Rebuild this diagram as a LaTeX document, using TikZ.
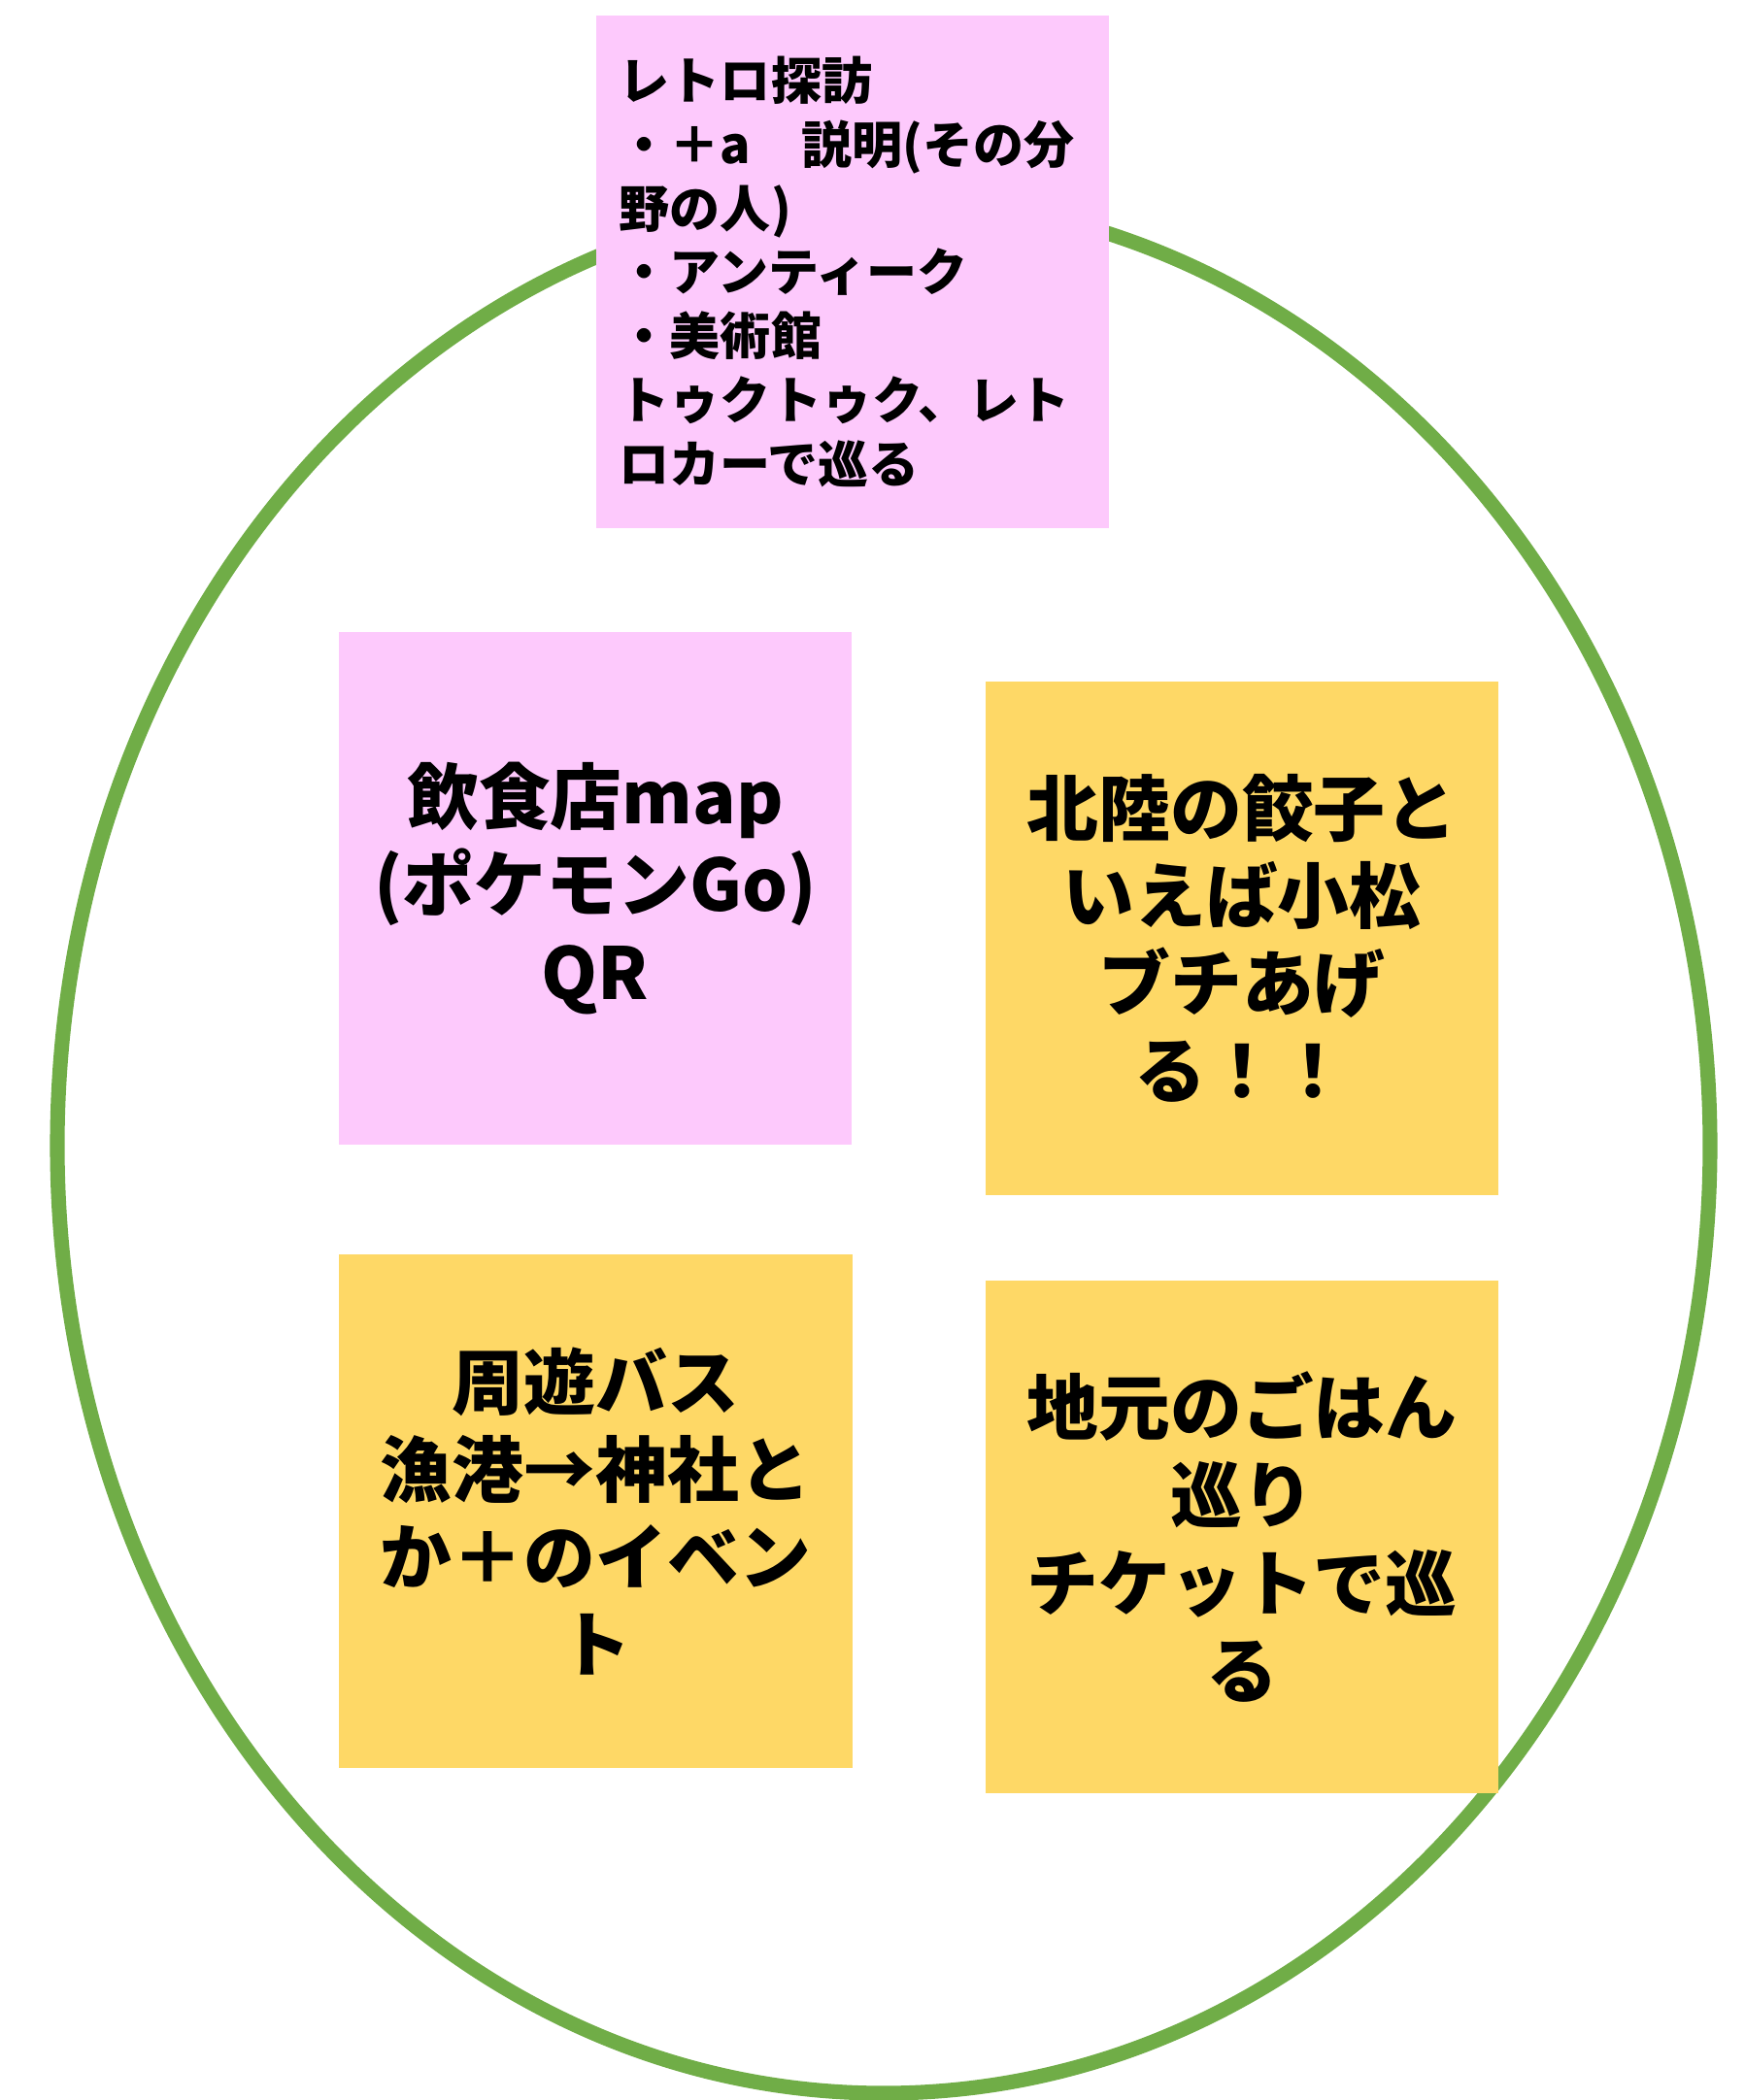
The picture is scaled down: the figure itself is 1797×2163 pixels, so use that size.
\documentclass[tikz,border=0pt]{standalone}
\usepackage{fontspec}
\setmainfont{Noto Sans CJK JP}
\definecolor{notepink}{HTML}{FDC9FC}
\definecolor{noteyellow}{HTML}{FED866}
\definecolor{ringgreen}{HTML}{70AD47}
\tikzset{
	ring/.style={draw=ringgreen, line width=4.3pt},
	sticky/.style={rectangle, minimum width=5.28cm, minimum height=5.28cm, inner sep=0pt,
		align=center, font=\bfseries\fontsize{21}{25.6}\selectfont},
	pinknote/.style={sticky, fill=notepink},
	yellownote/.style={sticky, fill=noteyellow},
	listnote/.style={pinknote, align=left, text width=4.8cm, inner xsep=0.24cm,
		minimum height=5.27cm, font=\bfseries\fontsize{14.8}{18.7}\selectfont},
}

\begin{document}
\begin{tikzpicture}[x=0.01cm, y=-0.01cm]
		\useasboundingbox (0,0) rectangle (1797,2163);
		\draw[ring] (910,1180) ellipse [x radius=851, y radius=976];
		% notes on top of the ring
		\node[listnote] (retro) at (878,280) {レトロ探訪\\・＋a　説明(その分\\野の人)\\・アンティーク\\・美術館\\トゥクトゥク、レト\\ロカーで巡る};
		\node[pinknote] (food) at (613,915) {飲食店map\\(ポケモンGo)\\QR};
		\node[yellownote] (gyoza) at (1279,966.5) {北陸の餃子と\\いえば小松\\ブチあげ\\る！！};
		\node[yellownote] (bus) at (613.5,1556.5) {周遊バス\\漁港→神社と\\か＋のイベン\\ト};
		\node[yellownote] (gohan) at (1279,1583) {地元のごはん\\巡り\\チケットで巡\\る};
\end{tikzpicture}
\end{document}
